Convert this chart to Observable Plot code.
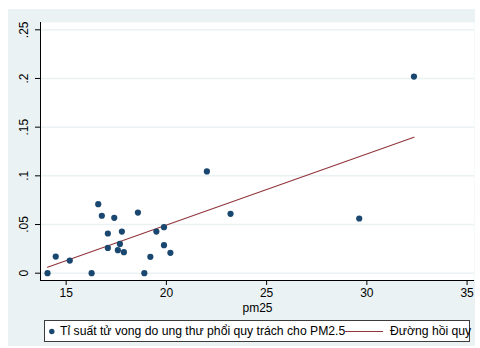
<!DOCTYPE html>
<html>
<head>
<meta charset="utf-8">
<script src="https://cdn.jsdelivr.net/npm/d3@7"></script>
<script src="https://cdn.jsdelivr.net/npm/@observablehq/plot@0.6"></script>
<style>
  html, body { margin: 0; padding: 0; background: #ffffff; }
  body { width: 480px; height: 348px; position: relative; overflow: hidden; font-family: "Liberation Sans", Arial, sans-serif; }
  #bg { position: absolute; left: 8px; top: 9px; width: 467px; height: 337px; background: #eaf2f3; }
  #chart { position: absolute; left: 0; top: 0; }
  #chart svg { background: transparent !important; }
  #legend { position: absolute; left: 44px; top: 320px; width: 426px; height: 22px; box-sizing: border-box;
            border: 1px solid #3c3c3c; background: #ffffff; font-size: 12.2px; color: #000; }
  #legend .item { position: absolute; top: 0; height: 20px; line-height: 21px; white-space: nowrap; }
</style>
</head>
<body>
<div id="bg"></div>
<div id="chart"></div>
<div id="legend"></div>
<script>
// Data
const pm25 = [14.07, 14.48, 15.18, 16.27, 16.6, 16.78, 17.08, 17.08, 17.4, 17.58, 17.68, 17.78,
              17.88, 18.58, 18.9, 19.2, 19.5, 19.88, 19.88, 20.2, 22.02, 23.2, 29.62, 32.35];
const rate = [0, 0.0171, 0.013, 0, 0.0709, 0.059, 0.0408, 0.026, 0.0569, 0.0236, 0.0301, 0.0428,
              0.0216, 0.0623, 0, 0.0168, 0.0428, 0.0473, 0.0288, 0.0209, 0.1045, 0.061, 0.0562, 0.202];
const fitX = [14.07, 32.35];
const fitY = [0.0062, 0.1397];
const xTicks = [15, 20, 25, 30, 35];
const yTicks = [0, 0.05, 0.1, 0.15, 0.2, 0.25];
const yTickLabels = ["0", ".05", ".1", ".15", ".2", ".25"];
const xLabel = "pm25";
const seriesNames = ["Tỉ suất tử vong do ung thư phổi quy trách cho PM2.5", "Đường hồi quy"];

const points = pm25.map((x, i) => ({x, y: rate[i]}));
const fit = fitX.map((x, i) => ({x, y: fitY[i]}));
const yLab = yTicks.map((v, i) => ({v, t: yTickLabels[i]}));

const xDomain = [13.72, 35.37];
const yDomain = [-0.0075, 0.2575];
const navy = "#1a476f";
const maroon = "#90353b";
const fs = 12;

const plot = Plot.plot({
  width: 480,
  height: 316,
  marginLeft: 40,
  marginRight: 6,
  marginTop: 22,
  marginBottom: 36,
  style: {fontFamily: "'Liberation Sans', Arial, sans-serif", fontSize: fs + "px", background: "transparent", color: "#000"},
  x: {domain: xDomain},
  y: {domain: yDomain},
  marks: [
    Plot.frame({fill: "#ffffff", stroke: null}),
    Plot.gridY(yTicks, {stroke: "#eaf2f3", strokeOpacity: 1, strokeWidth: 1.5}),
    Plot.axisX({ticks: xTicks, tickSize: 5, tickPadding: 3, fontSize: fs, stroke: "#000", label: null}),
    Plot.axisY({ticks: yTicks, tickSize: 5, text: null, stroke: "#000", label: null}),
    Plot.text(yLab, {y: "v", text: "t", frameAnchor: "left", dx: -16, rotate: -90, textAnchor: "middle", lineAnchor: "middle", fontSize: fs, fill: "#000"}),
    Plot.text([xLabel], {frameAnchor: "bottom", dy: 28, text: d => d, fontSize: fs, fill: "#000", lineAnchor: "middle"}),
    Plot.ruleX([xDomain[0]], {stroke: "#000", strokeWidth: 1}),
    Plot.ruleY([yDomain[0]], {stroke: "#000", strokeWidth: 1}),
    Plot.line(fit, {x: "x", y: "y", stroke: maroon, strokeWidth: 1.1}),
    Plot.dot(points, {x: "x", y: "y", r: 3.1, fill: navy, stroke: null})
  ]
});
document.getElementById("chart").appendChild(plot);

const legend = document.getElementById("legend");
legend.innerHTML = `
  <svg class="item" style="left:3px;width:10px;height:20px;"><circle cx="3.8" cy="10.5" r="2.7" fill="${navy}"/></svg>
  <span class="item" style="left:15px;">${seriesNames[0]}</span>
  <svg class="item" style="left:300px;width:40px;height:20px;"><line x1="0" x2="38" y1="10.5" y2="10.5" stroke="${maroon}" stroke-width="1.1"/></svg>
  <span class="item" style="left:345px;">${seriesNames[1]}</span>
`;
</script>
</body>
</html>
